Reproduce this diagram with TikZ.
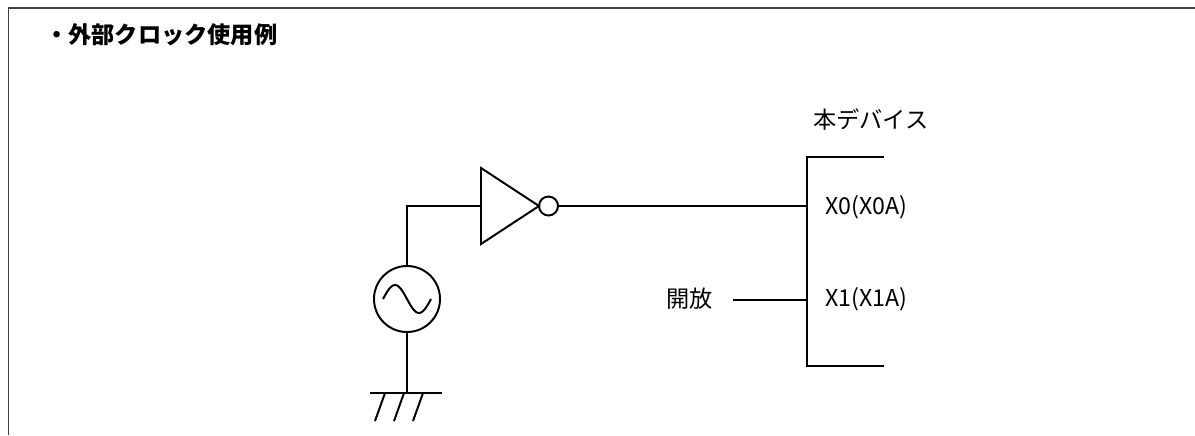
\documentclass[tikz,border=0pt]{standalone}
\usepackage{fontspec}
\newfontfamily\jp{Noto Sans CJK JP}
\usetikzlibrary{positioning}
\tikzset{
	leitung/.style={line width=1.4pt},
	beschr/.style={font=\jp\fontsize{16.5}{18}\selectfont, inner sep=0pt},
}
\begin{document}
\begin{tikzpicture}[x=0.025cm,y=-0.025cm]
	\useasboundingbox (0,0) rectangle (1195,435);
	\draw[leitung, black!75] (8.5,435) -- (8.5,8) -- (1195,8);%Rahmen
	\node[beschr, anchor=west, font=\jp\bfseries\fontsize{16.5}{18}\selectfont] (titel) at (45,35) {・外部クロック使用例};
	\node[beschr] (geraet) at (871,120) {本デバイス};
	\draw[leitung] (884,157) -- (807,157) -- (807,366) -- (884,366);%Baustein
	\coordinate (x0) at (807,206);%Pin X0
	\coordinate (x1) at (807,300);%Pin X1
	\node[beschr, anchor=west] (x0text) at (825,207) {X0(X0A)};
	\node[beschr, anchor=west] (x1text) at (825,299) {X1(X1A)};
	\node[beschr, anchor=east] (offen) at (713,299) {開放};
	\coordinate (offenende) at (733,300);
	\draw[leitung] (offenende) -- (x1);%offener Pin
	\draw[leitung] (481,168) -- (539,206) -- (481,244) -- cycle;%Inverter
	\coordinate (inveingang) at (481,206);
	\node[draw, leitung, circle, inner sep=0pt, minimum size=0.475cm] (blase) at (548.5,206) {};%Negation
	\draw[leitung] (blase.east) -- (x0);%Ausgang
	\node[draw, leitung, circle, inner sep=0pt, minimum size=1.65cm] (gen) at (407,299) {};%Oszillator
	\draw[leitung] plot[domain=0:360, smooth, samples=40] ({383+\x/360*48}, {299-14*sin(\x)});%Sinus
	\coordinate (ecke) at (407,206);
	\draw[leitung] (gen.north) -- (ecke) -- (inveingang);%Eingang
	\coordinate (masse) at (407,393);
	\draw[leitung] (gen.south) -- (masse);
	\draw[leitung] (370,393) -- (442,393);%Masse
	\foreach \i in {385,404,423}
		\draw[leitung] (\i,393) -- (\i-10,421);%Schraffur
\end{tikzpicture}
\end{document}
